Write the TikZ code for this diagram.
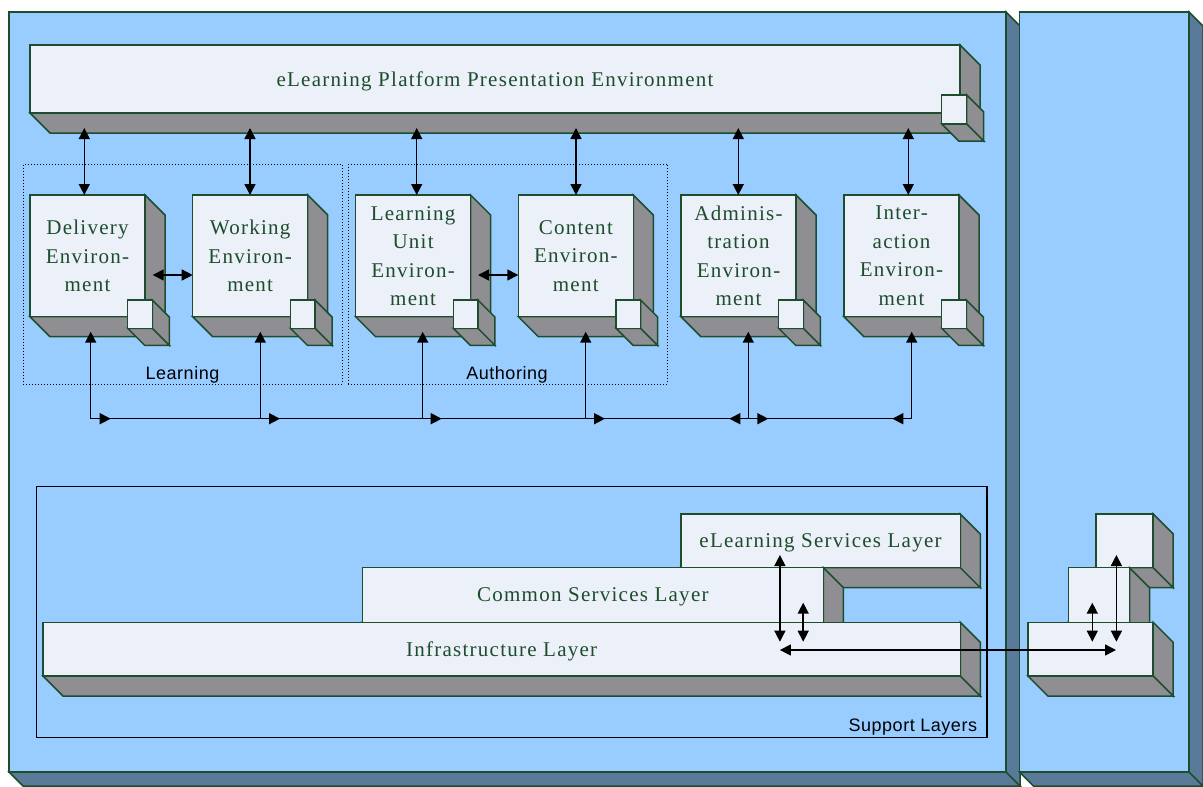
\documentclass[tikz,border=0pt]{standalone}
\usepackage{fontspec}
\setmainfont{Liberation Serif}
\newfontfamily\boxfont{Liberation Serif}[LetterSpace=6]
\newfontfamily\lblfont{Liberation Sans}[LetterSpace=3]
\usetikzlibrary{arrows.meta,calc}
\definecolor{panelc}{HTML}{99CCFF}
\definecolor{pdepthc}{HTML}{5A7A99}
\definecolor{facec}{HTML}{ECF0F8}
\definecolor{gdepthc}{HTML}{8F8F93}
\definecolor{outlc}{HTML}{1E4D2E}
\tikzset{
  facebox/.style={draw=outlc, fill=facec, line width=1.5pt, inner sep=0pt, outer sep=0pt,
    align=center, text=outlc, text depth=0pt, font={\boxfont\fontsize{21pt}{28.5pt}\selectfont}},
  panelbox/.style={draw=outlc, fill=panelc, line width=1.5pt, inner sep=0pt, outer sep=0pt},
  groupbox/.style={draw=black, line width=1pt, dash pattern=on 1pt off 2pt, inner sep=0pt, outer sep=0pt},
  supbox/.style={draw=black, line width=1.4pt, inner sep=0pt, outer sep=0pt},
  lbl/.style={font={\lblfont\fontsize{18pt}{20pt}\selectfont}, inner sep=0pt},
  conn/.style={line width=1.5pt, black},
  arr/.style={conn, -{Triangle[length=11pt,width=11pt]}},
  dbl/.style={conn, {Triangle[length=11pt,width=11pt]}-{Triangle[length=11pt,width=11pt]}}
}
% #1 name, #2 x, #3 y, #4 w, #5 h, #6 depth, #7 depth colour, #8 front style, #9 text
\newcommand{\cubebox}[9]{%
  \filldraw[fill=#7, draw=outlc, line width=1.5pt, line join=miter]
    (#2,#3+#5) -- (#2+#4,#3+#5) -- (#2+#4+#6,#3+#5+#6) -- (#2+#6,#3+#5+#6) -- cycle
    (#2+#4,#3) -- (#2+#4+#6,#3+#6) -- (#2+#4+#6,#3+#5+#6) -- (#2+#4,#3+#5) -- cycle;
  \node[#8, minimum width=#4pt, minimum height=#5pt, anchor=north west] (#1) at (#2,#3) {#9};
}
\begin{document}
\begin{tikzpicture}[x=1pt,y=-1pt]
\useasboundingbox (0,0) rectangle (1203,787);
\fill[white] (0,0) rectangle (1203,787);
% panels
\cubebox{lpanel}{9}{12}{997}{760}{14}{pdepthc}{panelbox}{}
\cubebox{rpanel}{1019.5}{12}{169.5}{760}{14}{pdepthc}{panelbox}{}
% groups
\node[groupbox, minimum width=319pt, minimum height=219.7pt, anchor=north west] (grpL) at (23.3,164.3) {};
\node[groupbox, minimum width=319.4pt, minimum height=219.7pt, anchor=north west] (grpA) at (348.3,164.3) {};
\node[lbl, anchor=base] (lblL) at (182.5,379) {Learning};
\node[lbl, anchor=base] (lblA) at (507,379) {Authoring};
% presentation bar
\cubebox{pres}{30}{45}{930}{68}{20}{gdepthc}{facebox}{eLearning Platform Presentation Environment}
\cubebox{presc}{941.7}{95}{25}{29}{17}{gdepthc}{facebox}{}
% environments
\cubebox{deliv}{30}{195}{115}{121.7}{20}{gdepthc}{facebox}{Delivery\\Environ-\\ment}
\cubebox{delivc}{127.7}{300}{24.6}{28.3}{17}{gdepthc}{facebox}{}
\cubebox{work}{192.7}{195}{115}{121.7}{20}{gdepthc}{facebox}{Working\\Environ-\\ment}
\cubebox{workc}{290.4}{300}{24.6}{28.3}{17}{gdepthc}{facebox}{}
\cubebox{lunit}{355.6}{195}{115}{121.7}{20}{gdepthc}{facebox}{Learning\\Unit\\Environ-\\ment}
\cubebox{lunitc}{453.3}{300}{24.6}{28.3}{17}{gdepthc}{facebox}{}
\cubebox{cont}{518.3}{195}{115}{121.7}{20}{gdepthc}{facebox}{Content\\Environ-\\ment}
\cubebox{contc}{616}{300}{24.6}{28.3}{17}{gdepthc}{facebox}{}
\cubebox{admin}{681}{195}{115}{121.7}{20}{gdepthc}{facebox}{Adminis-\\tration\\Environ-\\ment}
\cubebox{adminc}{778.7}{300}{24.6}{28.3}{17}{gdepthc}{facebox}{}
\cubebox{inter}{844}{195}{115}{121.7}{20}{gdepthc}{facebox}{Inter-\\action\\Environ-\\ment}
\cubebox{interc}{941.7}{300}{24.6}{28.3}{17}{gdepthc}{facebox}{}
% top connectors
\coordinate (t1) at (84.3,128);  \draw[dbl] (t1) -- (t1 |- deliv.north);
\coordinate (t2) at (250,128);   \draw[dbl] (t2) -- (t2 |- work.north);
\coordinate (t3) at (416.7,128); \draw[dbl] (t3) -- (t3 |- lunit.north);
\coordinate (t4) at (576,128);   \draw[dbl] (t4) -- (t4 |- cont.north);
\coordinate (t5) at (738.3,128); \draw[dbl] (t5) -- (t5 |- admin.north);
\coordinate (t6) at (908.3,128); \draw[dbl] (t6) -- (t6 |- inter.north);
% side connectors
\coordinate (h1) at (152.7,275); \draw[dbl] (h1) -- (h1 -| work.west);
\coordinate (h2) at (478,275);   \draw[dbl] (h2) -- (h2 -| cont.west);
% bus
\coordinate (J1) at (90.7,418.7);
\coordinate (J2) at (260.3,418.7);
\coordinate (J3) at (422.7,418.7);
\coordinate (J4) at (585.7,418.7);
\coordinate (J5) at (748.3,418.7);
\coordinate (J6) at (911.7,418.7);
\draw[conn] (J1) -- (J6);
\draw[arr] (J1) -- ($(J1 |- deliv.south)+(0,15)$);
\draw[arr] (J2) -- ($(J2 |- work.south)+(0,15)$);
\draw[arr] (J3) -- ($(J3 |- lunit.south)+(0,15)$);
\draw[arr] (J4) -- ($(J4 |- cont.south)+(0,15)$);
\draw[arr] (J5) -- ($(J5 |- admin.south)+(0,15)$);
\draw[arr] (J6) -- ($(J6 |- inter.south)+(0,15)$);
\draw[arr] (J1) -- ++(20,0);
\draw[arr] (J2) -- ++(19.7,0);
\draw[arr] (J3) -- ++(19,0);
\draw[arr] (J4) -- ++(19.3,0);
\draw[arr] (J5) -- ++(-19,0);
\draw[arr] (J5) -- ++(20,0);
\draw[arr] (J6) -- ++(-19.4,0);
% support layers
\node[supbox, minimum width=950.3pt, minimum height=250.6pt, anchor=north west] (support) at (36.7,486.7) {};
\node[lbl, anchor=base east] (lblS) at (977.3,731.7) {Support Layers};
\cubebox{els}{680.8}{514}{279.5}{53.7}{20}{gdepthc}{facebox}{eLearning Services Layer}
\cubebox{cls}{362.3}{567.7}{461.1}{54.6}{20}{gdepthc}{facebox}{Common Services Layer}
\cubebox{infra}{43}{622.3}{917.3}{53.7}{20}{gdepthc}{facebox}{Infrastructure Layer}
\cubebox{rtop}{1095.9}{514}{57.3}{53.7}{20}{gdepthc}{facebox}{}
\cubebox{rmid}{1068.6}{567.7}{60.9}{54.6}{20}{gdepthc}{facebox}{}
\cubebox{rbot}{1027.9}{622.3}{125.3}{53.7}{20}{gdepthc}{facebox}{}
% layer connectors
\coordinate (v1a) at (779.9,555);   \coordinate (v1b) at (779.9,641.7);
\coordinate (v2a) at (803.2,602.7); \coordinate (v2b) at (803.2,641.7);
\coordinate (hla) at (779.9,650);   \coordinate (hlb) at (1116,650);
\coordinate (v3a) at (1116.4,555);  \coordinate (v3b) at (1116.4,641.7);
\coordinate (v4a) at (1092.3,602.7); \coordinate (v4b) at (1092.3,641.7);
\draw[dbl] (v1a) -- (v1b);
\draw[dbl] (v2a) -- (v2b);
\draw[dbl] (hla) -- (hlb);
\draw[dbl] (v3a) -- (v3b);
\draw[dbl] (v4a) -- (v4b);
\end{tikzpicture}
\end{document}
